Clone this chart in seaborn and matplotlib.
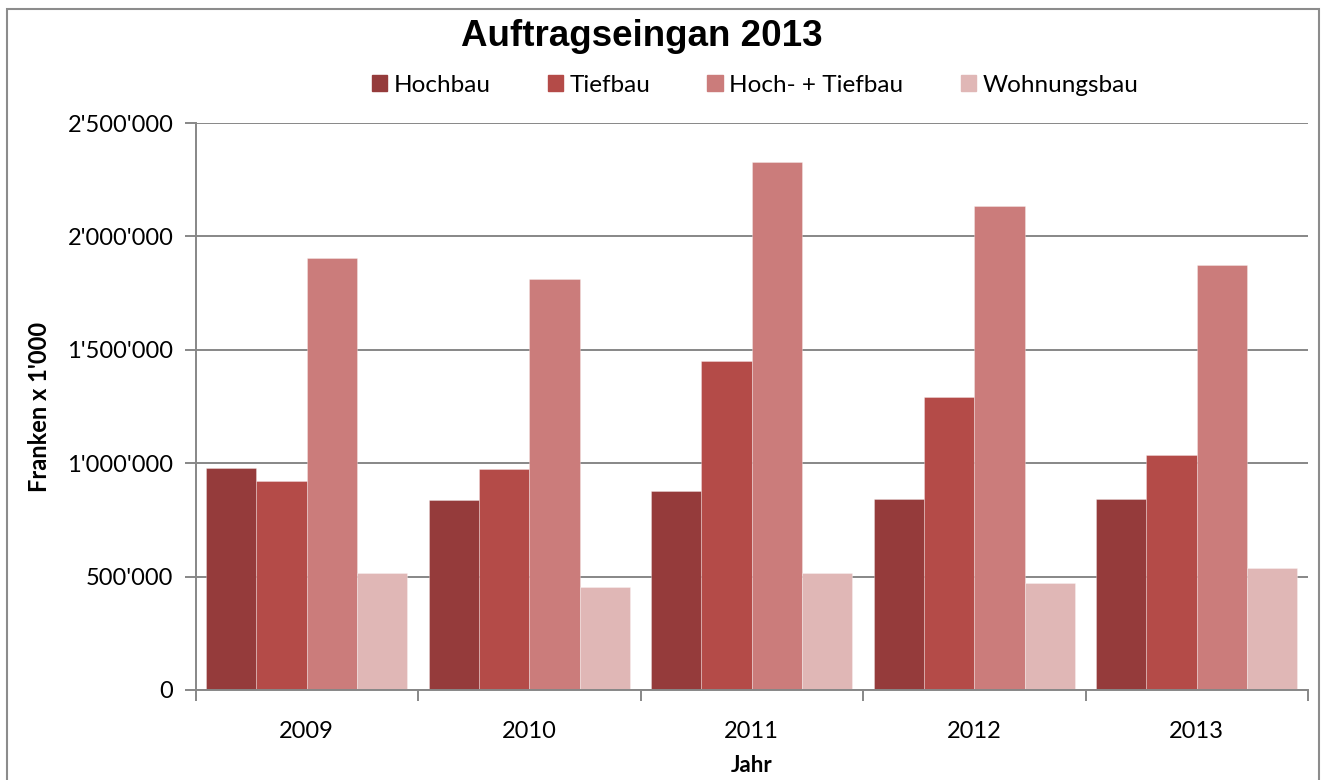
import matplotlib
matplotlib.use("Agg")
import matplotlib.pyplot as plt
import matplotlib.patches as mpatches
from matplotlib.ticker import FuncFormatter
import seaborn as sns
import pandas as pd

years = ["2009", "2010", "2011", "2012", "2013"]
series = ["Hochbau", "Tiefbau", "Hoch- + Tiefbau", "Wohnungsbau"]
hochbau = [979000, 838000, 877000, 842000, 840000]
tiefbau = [921000, 974000, 1450000, 1292000, 1036000]
hoch_tief = [1905000, 1812000, 2328000, 2134000, 1874000]
wohnungsbau = [516000, 454000, 516000, 472000, 538000]
colors = ["#953B3B", "#B44B48", "#CB7C7B", "#E0B7B6"]

values = [hochbau, tiefbau, hoch_tief, wohnungsbau]
rows = []
for s, vals in zip(series, values):
    for y, v in zip(years, vals):
        rows.append({"Jahr": y, "Serie": s, "Wert": v})
df = pd.DataFrame(rows)

sns.set_theme(style="white")
plt.rcParams["font.family"] = ["Lato", "DejaVu Sans"]
plt.rcParams["text.color"] = "black"

fig = plt.figure(figsize=(13.22, 7.80), dpi=100)
ax = fig.add_axes([195.5 / 1322, 1 - 690 / 780, (1308 - 195.5) / 1322, (690 - 123) / 780])

sns.barplot(data=df, x="Jahr", y="Wert", hue="Serie", hue_order=series,
            order=years, palette=colors, width=0.905, ax=ax,
            edgecolor=(1, 1, 1, 0.35), linewidth=0.6, legend=False, saturation=1)

ax.set_ylim(0, 2500000)
ax.set_xlim(-0.5, 4.5)
ax.set_yticks([0, 500000, 1000000, 1500000, 2000000, 2500000])
ax.yaxis.set_major_formatter(FuncFormatter(lambda v, p: f"{int(v):,}".replace(",", "'")))
ax.yaxis.grid(True, color="#878787", linewidth=1.4)
ax.set_axisbelow(True)

for side in ["top", "right"]:
    ax.spines[side].set_visible(False)
for side in ["left", "bottom"]:
    ax.spines[side].set_color("#878787")
    ax.spines[side].set_linewidth(1.4)

ax.set_xticks(range(5))
ax.set_xticklabels(years)
ax.tick_params(axis="x", length=0, labelsize=17, pad=22, colors="black")
ax.tick_params(axis="y", length=8, width=1.4, color="#878787", labelsize=17, pad=8, left=True)
for lbl in ax.get_xticklabels() + ax.get_yticklabels():
    lbl.set_color("black")
ax.set_xticks([-0.5, 0.5, 1.5, 2.5, 3.5, 4.5], minor=True)
ax.tick_params(axis="x", which="minor", length=8, width=1.4, color="#878787", bottom=True)

ax.set_xlabel("")
ax.set_ylabel("")
fig.text((195.5 + 1308) / 2 / 1322, 1 - 765 / 780, "Jahr", ha="center", va="center",
         fontsize=16, fontweight="bold", color="black")
fig.text(40 / 1322, 1 - 407 / 780, "Franken x 1'000", ha="center", va="center",
         rotation=90, fontsize=17, fontweight="bold", color="black")

fig.text(642 / 1322, 1 - 37 / 780, "Auftragseingan 2013", ha="center", va="center",
         fontsize=26.5, fontweight="bold", color="black",
         family=["Liberation Sans", "DejaVu Sans"])

handles = [mpatches.Patch(color=c, label=s) for c, s in zip(colors, series)]
leg = fig.legend(handles=handles, loc="center", bbox_to_anchor=(755 / 1322, 1 - 85 / 780), ncol=4,
                 frameon=False, fontsize=17.5, handlelength=0.65, handleheight=0.65,
                 handletextpad=0.25, columnspacing=2.35)
for t in leg.get_texts():
    t.set_color("black")

fig.patches.append(mpatches.Rectangle((7 / 1322, -0.02), (1319 - 7) / 1322, 1.02 - 9 / 780,
                                      transform=fig.transFigure, fill=False,
                                      edgecolor="#8c8c8c", linewidth=1.5))

fig.savefig("out.png", dpi=100, facecolor="white")
